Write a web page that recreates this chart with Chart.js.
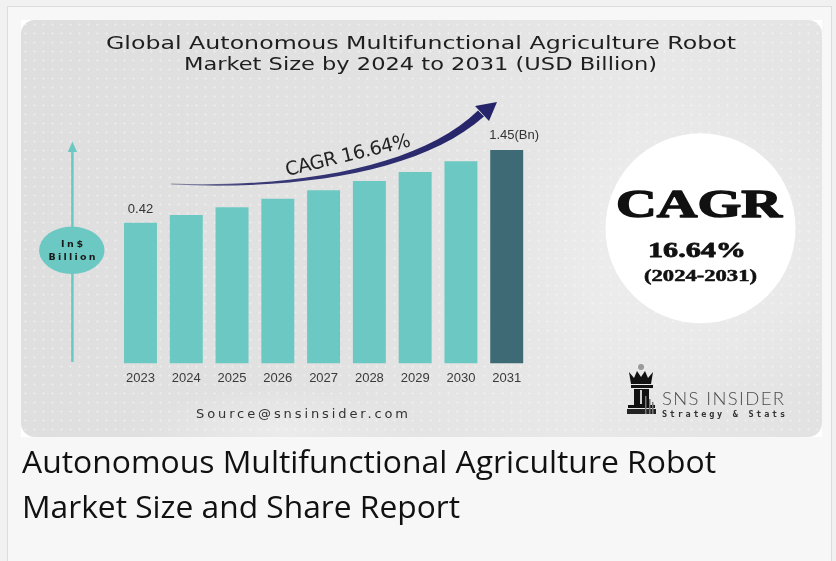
<!DOCTYPE html>
<html>
<head>
<meta charset="utf-8">
<script src="https://cdn.jsdelivr.net/npm/chart.js@4.4.1/dist/chart.umd.min.js"></script>
<style>
html, body { margin: 0; padding: 0; }
body { width: 836px; height: 561px; background: #f1f1f1; position: relative; overflow: hidden; }
#panel { position: absolute; left: 7px; top: 6px; width: 823px; height: 600px; background: #f7f7f7; border: 1.5px solid #dcdcdc; border-bottom: none; }
#img { position: absolute; left: 21px; top: 20px; width: 801px; height: 417px; background: #fff; }
#card {
  position: absolute; left: 0; top: 0; right: 0; bottom: 0; border-radius: 14px;
  background:
    radial-gradient(ellipse 300px 230px at 690px 230px, rgba(255,255,255,0.35), rgba(255,255,255,0) 70%),
    radial-gradient(ellipse 200px 60px at 260px 410px, rgba(255,255,255,0.35), rgba(255,255,255,0) 70%),
    radial-gradient(circle, rgba(255,255,255,0.35) 0.9px, rgba(255,255,255,0) 1.4px) 0 0 / 9px 9px,
    linear-gradient(100deg, #dedede 0%, #e2e2e2 45%, #e8e8e8 72%, #e2e2e2 100%);
}
#chartBox { position: absolute; left: 0; top: 0; width: 836px; height: 561px; }
#overlay { position: absolute; left: 0; top: 0; }
</style>
</head>
<body>
<div id="panel"></div>
<div id="img"><div id="card"></div></div>
<div id="chartBox"><canvas id="grafico" width="836" height="561"></canvas></div>

<svg id="overlay" width="836" height="561" xmlns="http://www.w3.org/2000/svg">
  <defs>
    <linearGradient id="flecha" x1="0" y1="0" x2="1" y2="0">
      <stop offset="0" stop-color="#8c8ca6"/>
      <stop offset="0.25" stop-color="#3a3a78"/>
      <stop offset="1" stop-color="#25246a"/>
    </linearGradient>
  </defs>

  <!-- titulo -->
  <g font-family="'DejaVu Sans', sans-serif" font-size="18.5" fill="#1e1e1e">
    <text x="106" y="49" textLength="630" lengthAdjust="spacingAndGlyphs">Global Autonomous Multifunctional Agriculture Robot</text>
    <text x="184" y="70" textLength="473" lengthAdjust="spacingAndGlyphs">Market Size by 2024 to 2031 (USD Billion)</text>
  </g>

  <!-- flecha curva CAGR -->
  <path d="M171,183.6 C300,188 420,166.5 478,110.5 L484,116.5 C422,171.5 300,190.6 171,184.6 Z" fill="url(#flecha)"/>
  <polygon points="475,106 497,102 489,121" fill="#25246a"/>
  <text x="287" y="176" transform="rotate(-13.5 287 176)" font-family="'DejaVu Sans', sans-serif" font-size="19" fill="#222" textLength="128" lengthAdjust="spacing">CAGR 16.64%</text>

  <!-- eje vertical -->
  <line x1="72.4" y1="150" x2="72.4" y2="362" stroke="#6cc8c2" stroke-width="2.5"/>
  <polygon points="72.4,141.5 67.8,152 77,152" fill="#6cc8c2"/>
  <ellipse cx="71.8" cy="250.3" rx="32.7" ry="23.7" fill="#6cc8c2"/>
  <g font-family="'DejaVu Sans', sans-serif" font-weight="bold" font-size="9.5" fill="#1a1a1a">
    <text x="61" y="247" textLength="22" lengthAdjust="spacing">In$</text>
    <text x="48.5" y="260" textLength="47" lengthAdjust="spacing">Billion</text>
  </g>

  <text x="196" y="418" font-family="'DejaVu Sans', sans-serif" font-size="13" fill="#333" textLength="212" lengthAdjust="spacing">Source@snsinsider.com</text>

  <!-- circulo CAGR -->
  <circle cx="700.5" cy="228.3" r="95" fill="#ffffff"/>
  <g font-family="'Liberation Serif', 'Times New Roman', serif" font-weight="bold" fill="#111" stroke="#111" stroke-linejoin="round">
    <text x="616" y="217.3" font-size="40" stroke-width="1.4" textLength="166" lengthAdjust="spacingAndGlyphs">CAGR</text>
    <text x="648" y="256.7" font-size="22" stroke-width="0.8" textLength="98" lengthAdjust="spacingAndGlyphs">16.64%</text>
    <text x="644" y="281" font-size="16" stroke-width="0.5" textLength="113" lengthAdjust="spacingAndGlyphs">(2024-2031)</text>
  </g>

  <!-- logo -->
  <g>
    <circle cx="641" cy="367" r="3" fill="#9a9a9a"/>
    <path d="M629,372 L634,378 L637,371 L641,377 L645,371 L648,378 L653,372 L651,384 L631,384 Z" fill="#111"/>
    <rect x="631" y="385" width="22" height="3" fill="#111"/>
    <rect x="634" y="389" width="15" height="16" fill="#111"/>
    <rect x="640" y="390" width="2" height="14" fill="#cfcfcf"/>
    <rect x="628" y="405" width="27" height="3" fill="#111"/>
    <rect x="627" y="409" width="29" height="5" fill="#222"/>
    <rect x="645" y="396" width="1.5" height="18" fill="#777"/>
    <rect x="649" y="399" width="1.5" height="15" fill="#777"/>
    <rect x="652" y="402" width="1.5" height="12" fill="#777"/>
  </g>
  <text x="662" y="405" font-family="Lato, 'Open Sans', sans-serif" font-weight="300" font-size="18.5" fill="#4b4b4b" textLength="122" lengthAdjust="spacing">SNS INSIDER</text>
  <text x="662" y="416.7" font-family="'DejaVu Sans Mono', monospace" font-weight="bold" font-size="8.5" fill="#333" textLength="123" lengthAdjust="spacing">Strategy &amp; Stats</text>

  <!-- pie -->
  <g font-family="'Open Sans', 'Noto Sans', sans-serif" font-size="31" fill="#111">
    <text x="22" y="473" textLength="694" lengthAdjust="spacingAndGlyphs">Autonomous Multifunctional Agriculture Robot</text>
    <text x="22" y="518" textLength="438" lengthAdjust="spacingAndGlyphs">Market Size and Share Report</text>
  </g>
</svg>

<script>
const years = ['2023', '2024', '2025', '2026', '2027', '2028', '2029', '2030', '2031'];
const marketSize = [0.42, 0.53, 0.64, 0.76, 0.88, 1.01, 1.14, 1.29, 1.45]; // USD Bn
const AXIS_MIN = -1.575; // la infografía no arranca en cero
const AXIS_MAX = 1.45;

const TEAL = '#6cc8c2';
const DARK_TEAL = '#3e6a75';

Chart.defaults.font.family = '"Liberation Sans", Arial, sans-serif';

// etiquetas de valor sobre la primera y la última barra
const etiquetasValor = {
    id: 'etiquetasValor',
    afterDatasetsDraw(chart) {
        const ctx = chart.ctx;
        const bars = chart.getDatasetMeta(0).data;
        const last = bars.length - 1;
        ctx.save();
        ctx.font = '13px "Liberation Sans", Arial, sans-serif';
        ctx.fillStyle = '#333';
        ctx.textBaseline = 'middle';
        ctx.textAlign = 'center';
        ctx.fillText(marketSize[0].toFixed(2), bars[0].x, bars[0].y - 13.5);
        ctx.textAlign = 'left';
        ctx.fillText(marketSize[last].toFixed(2) + '(Bn)', bars[last].x - bars[last].width / 2 - 1, bars[last].y - 14.3);
        ctx.restore();
    }
};

new Chart(document.getElementById('grafico').getContext('2d'), {
    type: 'bar',
    data: {
        labels: years,
        datasets: [{
            data: marketSize,
            base: AXIS_MIN,
            backgroundColor: (c) => c.dataIndex === marketSize.length - 1 ? DARK_TEAL : TEAL,
            borderWidth: 0,
            categoryPercentage: 0.8,
            barPercentage: 0.9
        }]
    },
    options: {
        responsive: false,
        animation: false,
        layout: { padding: { left: 117.6, right: 306.4, top: 150, bottom: 167.9 } },
        plugins: { legend: { display: false }, tooltip: { enabled: false } },
        scales: {
            x: {
                grid: { display: false, drawTicks: false },
                border: { display: false },
                ticks: { color: '#3a3a3a', font: { size: 13 }, padding: 7 }
            },
            y: {
                display: false,
                min: AXIS_MIN,
                max: AXIS_MAX
            }
        }
    },
    plugins: [etiquetasValor]
});
</script>
</body>
</html>
